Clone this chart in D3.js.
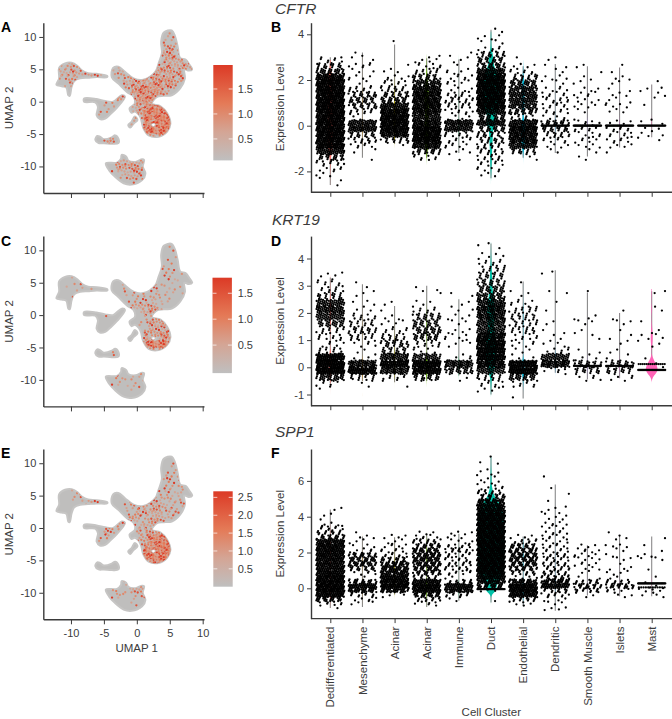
<!DOCTYPE html>
<html>
<head>
<meta charset="utf-8">
<script src="https://cdn.jsdelivr.net/npm/d3@7"></script>
<style>
  html, body { margin: 0; padding: 0; background: #fff; }
  svg { display: block; }
  text { font-family: "Liberation Sans", Arial, sans-serif; fill: #3c3c3c; }
</style>
</head>
<body>
<svg id="chart" width="672" height="719"></svg>
<script>
// cluster names and the violin colours, left to right
var categories = ["Dedifferentiated", "Mesenchyme", "Acinar", "Acinar", "Immune", "Duct",
  "Endothelial", "Dendritic", "Smooth Muscle", "Islets", "Mast"];
var clusterColors = ["#F8766D", "#DB8E00", "#AEA200", "#64B200", "#00BD5C", "#00C1A7",
  "#00BADE", "#00A6FF", "#B385FF", "#EF67EB", "#FF63B6"];

// outlines of the UMAP islands, in UMAP units
var islandLeft = [[-12.2,2.6],[-11.8,3.6],[-11.8,5.2],[-10.9,5.9],[-9.9,6],[-9,5.5],[-8.3,4.8],[-7.4,4.4],[-6.1,4.3],[-4.5,4],[-4.5,3.8],[-6.1,3.8],[-7.4,3.7],[-8.6,3.6],[-9.5,3.2],[-9.9,2.3],[-10.2,0.9],[-10.4,1],[-10.7,2.2],[-11.4,2.4]];
var islandMain = [[3.7,9.3],[4.1,10.7],[5.3,11],[5.8,10.1],[6.2,8.5],[6.6,6.7],[7.4,6.5],[8,5.7],[8.4,5],[7.9,4.8],[7.2,5],[7.3,3.6],[6.6,2.1],[5.3,1],[4.1,0.9],[3,0.7],[2.3,-0.3],[3.6,-0.7],[4.6,-1.8],[5.1,-3.4],[4.6,-4.6],[3.3,-5.4],[1.8,-5.2],[1,-4.1],[0.5,-2.3],[-0.3,-1.5],[-0.8,-1.7],[-1.1,-1],[-0.3,-0.3],[-0.5,0.8],[-1.5,1.5],[-2.8,2.8],[-3.8,3.8],[-3.6,5.2],[-2.8,5.4],[-1.8,4.6],[-0.5,3.6],[1,3.4],[2.8,4.6],[3.3,5.9],[3.8,7.5]];
var islandBridge = [[-8,0.5],[-6.1,0.4],[-4.8,0.1],[-3.6,0],[-2.3,1],[-1.8,0.8],[-3,-0.9],[-4.1,-2],[-4.8,-2.6],[-5.6,-2.7],[-6.1,-2.1],[-5.9,-0.8],[-6.3,-0.1],[-8,0]];
var islandTail = [[-0.3,-2.3],[-0.8,-3.1],[-1.3,-3.6],[-1,-4],[-0.5,-3.4],[0.1,-2.8]];
var islandSmall = [[-6.3,-5.9],[-6,-5.3],[-5.6,-5.4],[-5,-5.8],[-3.8,-5.5],[-3.3,-5.2],[-2.8,-5.7],[-2.8,-6.4],[-3.8,-6.5],[-5,-6.4],[-5.8,-6.4]];
var islandBottom = [[-4.7,-9.5],[-3,-9.4],[-2.4,-8.8],[-2.3,-8.2],[-1.6,-8.5],[-1.3,-9.1],[-0.2,-9.3],[0.8,-8.9],[1.1,-9],[0.9,-10],[1.3,-11.1],[0.8,-12.1],[-0.8,-12.8],[-2,-12.6],[-3.3,-11.6],[-4.2,-10.6]];
var holeBulb = [[2.2,-3.4],[2.7,-3.3],[2.9,-3.6],[2.5,-3.9],[2.2,-3.7]];
var islands = [islandLeft, islandMain, islandBridge, islandTail, islandSmall, islandBottom, holeBulb];

// expressing cells per 1x1 UMAP cell (base 36 digit). Rows run from y=10 down, columns from x=-13
var umapGridCFTR = ["00000000000000000100","00000000000000000110","00000000000000000220","00000000000000001332","0000000000000000133310",
  "0122100000100001233333","0223223301211233433300","0122000000123444444300","0011000000024445543000","0000000000004665520000",
  "0000000011333675000000","0000000011002367870000","0000000110002479bb3000","00000000000021a6cc5000","0000000000001079dd5000",
  "00000000000000bdd90000","0000000011000002300000","0000000022","","0000000000010000000000","0000000001233200000000",
  "0000000001323300000000","0000000000122200000000","0000000000001"];
var umapGridKRT19 = ["00000000000000000100","000000000000000000100","00000000000000000110","00000000000000001210","00000000000000000221",
  "00010000000000010121","0011201000110002221100","0001100000022012222100","0001000000012223220000","00000000000034432",
  "00000000110102454","00000000100000233320","000000000000022566","0000000000000145452","00000000000000565730",
  "00000000000000afff3","0000000012000004510","000000000230","","","0000000001212200000",
  "0000000001212100000","00000000000011100","0"];
var umapGridSPP1 = ["0","000000000000000000100","00000000000000000110","00000000000000000211","00000000000000000122",
  "00011000000000001212","0001122200001101222100","0000010000012233322110","00000000000113343221","00000000000232233210",
  "00000000002222330000","00000000322003345300","0000000120000347aa20","0000000000000258cf6","00000000000000dfffa",
  "00000000000000ffff","00000000000000088200","","00000000000100000","00000000000330","00000000020133100000",
  "00000000012011100","0000000000001","0"];
var umapFractions = [0.3, 0.5, 0.35, 0.85, 0.4, 0.6, 1, 0.45];

// number of cells per 0.25 wide expression bin, one list per cluster. First bin starts at the *BinStart value
var cftrBinStart = -2.75;
var cftrCounts = [
  [1,2,3,6,12,25,55,90,90,90,90,90,90,90,90,90,90,90,90,75,35,20,8],
  [0,0,0,0,0,1,2,6,14,20,60,50,2,12,22,26,22,10,2,5,3,6,2,2],
  [0,0,0,0,0,0,0,1,18,70,90,90,90,80,55,30,22,14,8,5,3,1,0,0,0,1],
  [0,0,0,0,0,8,25,65,90,90,90,70,50,70,75,75,75,65,45,25,12,7,5,1],
  [0,0,0,0,0,1,4,6,8,10,50,60,4,8,12,14,10,4,6,6,5,1,3,2],
  [0,0,3,6,8,10,12,14,18,18,25,60,30,65,90,90,90,90,90,85,60,30,25,20,6,3,4,2],
  [0,0,0,0,0,2,18,50,70,75,80,60,10,30,45,50,50,45,35,18,8,4,1],
  [0,0,0,0,0,0,2,4,8,14,22,25,5,8,8,10,7,5,3,4,2,2,2],
  [0,0,0,0,0,2,2,4,6,6,8,6,1,2,4,5,5,3,2,2,1,2],
  [0,0,0,0,0,0,1,4,7,7,8,4,0,3,5,3,3,2,2,3,1,1],
  [0,0,0,0,0,0,0,0,2,3,3,2,1,0,1,1,2,3,1]
];
var cftrRibbons = [[7,0,30],[8,0,40],[9,0,35],[10,0,30]];
var cftrTop = [3,3.2,3.55,2.95,2.9,4.2,2.6,2.7,2.6,2.55,1.8];
var cftrBottom = [-2.6,-1.4,-0.8,-1.4,-1.2,-2.3,-1.4,-1.2,-1.35,-0.95,-0.5];
var cftrPeak = [450,2500,1200,500,2500,150,500,3000,3000,3000,1500];
var cftrTicks = [-2,0,2,4];

var krt19BinStart = -1.25;
var krt19Counts = [
  [0,1,6,40,120,120,100,12,6,10,12,35,50,65,50,20,10,8,4],
  [0,0,2,14,100,70,4,2,6,14,20,14,10,3,3,2,2,1],
  [0,0,1,8,70,100,60,20,25,15,8,4,3,1,2],
  [0,0,0,25,100,110,45,5,12,28,32,28,25,8,3,1,3],
  [0,0,0,2,35,70,5,0,4,6,4,3,4,3,2,2],
  [0,4,8,15,50,90,100,100,95,90,55,60,70,75,60,40,32,25,20,14,8,4,2,1],
  [1,0,8,35,110,100,3,3,6,8,14,14,16,14,6,2,1,1],
  [0,0,0,0,6,80,50,6,4,2,2,2,0,1,1,1,1,0,1,1],
  [0,0,0,5,20,26,4,2,0,2,2,3,3,0,0,0,1],
  [0,0,0,5,20,26,2,2,2,2,1,3,1,1],
  [0,0,0,0,0,2,1,0,3,4,2,1,0,2,0,1,1]
];
var krt19Ribbons = [[8,0.05,25],[9,0.05,22],[10,0.12,14],[10,-0.1,26]];
var krt19Top = [3.3,3.05,2.25,3,2.5,4.55,3.15,3.57,2.75,2,2.8];
var krt19Bottom = [-0.6,-0.5,-0.55,-0.5,-0.3,-1,-1.15,-0.2,-0.45,-0.4,-0.15];
var krt19Peak = [1000,2500,2000,1500,2500,260,1000,3000,3000,3000,50];
var krt19Ticks = [-1,0,1,2,3,4];

var spp1BinStart = -1.25;
var spp1Counts = [
  [1,8,28,60,75,75,75,70,55,50,50,55,58,60,60,50,22,15,10,3,1,2,2],
  [0,3,5,10,40,55,25,1,6,20,32,30,25,5,3,3,3,1],
  [0,0,0,3,40,75,70,55,45,40,35,20,8,7,5,3,4],
  [0,6,12,30,65,70,50,12,25,30,35,38,35,32,22,15,6,3],
  [0,0,2,10,45,50,15,2,8,10,12,9,9,14,9,4,3,4],
  [0,0,1,0,4,30,45,55,70,75,75,75,75,75,75,75,75,75,75,75,75,75,60,55,40,20,12,6,4,3,3,2,1,1,1],
  [0,5,14,55,75,75,40,4,14,25,30,35,32,30,22,10,4],
  [4,3,3,10,14,50,40,18,14,12,12,10,10,7,7,5,6,6,4,5,3,3,3,1,1,0,1,1,0,1],
  [0,0,0,2,14,22,14,2,2,3,5,4,5,5,3],
  [0,0,0,3,6,24,12,2,4,3,1,3,2,2,4,1,2,1],
  [0,0,0,3,5,3,1,1,0,1,0,3,3,1,1,0,1]
];
var spp1Ribbons = [[5,-0.05,30],[10,0.27,34],[10,0.05,12]];
var spp1Top = [4.4,2.9,2.85,3.05,3.05,7.4,2.9,5.8,2.4,2.95,2.9];
var spp1Bottom = [-1.1,-1.05,-0.35,-1.05,-0.7,-0.8,-1,-1.25,-0.4,-0.45,-0.45];
var spp1Peak = [1500,2500,1500,1500,2500,80,1500,2500,3000,3000,2500];
var spp1Ticks = [0,2,4,6];

// colour bar ranges and ticks
var cftrLegendRange = [0.07,1.98], cftrLegendTicks = [0.5,1,1.5];
var krt19LegendRange = [-0.04,1.8], krt19LegendTicks = [0.5,1,1.5];
var spp1LegendRange = [0,2.67], spp1LegendTicks = [0.5,1,1.5,2,2.5];
var umapTicks = [-10,-5,0,5,10];

// colours along the colour bar
var rampStops = [0, 0.3, 0.6, 1];
var rampColors = ["#bfbfbf", "#d4a595", "#e47a57", "#dc3a26"];

var binWidth = 0.25;
var svg = d3.select("#chart");
var defs = svg.append("defs");

var grad = defs.append("linearGradient").attr("id", "barGrad")
    .attr("x1", 0).attr("y1", 1).attr("x2", 0).attr("y2", 0);
rampStops.forEach(function(s, i) {
  grad.append("stop").attr("offset", (s * 100) + "%").attr("stop-color", rampColors[i]);
});

var dotColor = d3.scaleLinear().domain(rampStops).range(rampColors);

function styleAxis(g) {
  g.selectAll("path, line").attr("stroke", "#3a3a3a");
  g.select(".domain").attr("stroke-width", 1.4);
  g.selectAll(".tick line").attr("stroke-width", 1);
  g.selectAll("text").style("font-size", "11px");
}

function plain(d) { return String(d); }

// turn a count grid into dots, each one placed inside its grid cell
function gridDots(grid, perCount) {
  var dots = [];
  grid.forEach(function(row, r) {
    row.split("").forEach(function(c, col) {
      var n = Math.round(parseInt(c, 36) * perCount);
      for (var i = 0; i < n; i++) {
        dots.push({
          x: -13 + col + ((i + 1) * 0.7549 + r * 0.37 + col * 0.19) % 1,
          y: 10 - r + ((i + 1) * 0.5698 + col * 0.41) % 1,
          f: umapFractions[(i + r + col) % umapFractions.length]
        });
      }
    });
  });
  return dots;
}

// turn the bin counts of one cluster into dots spread over the width of the strip
function binDots(counts, start, cluster) {
  var dots = [];
  counts.forEach(function(n, b) {
    for (var i = 0; i < n; i++) {
      dots.push({
        cluster: cluster,
        value: start + binWidth * (((i + 1) * 0.5698 + b * 0.29) % 1),
        jitter: ((i + 1) * 0.7549 + b * 0.37 + cluster * 0.23) % 1
      });
    }
    start += binWidth;
  });
  return dots;
}

function ribbonDots(ribbons) {
  var dots = [];
  ribbons.forEach(function(r) {
    for (var i = 0; i < r[2]; i++) {
      dots.push({ cluster: r[0], value: r[1], jitter: (i + 0.5) / r[2] });
    }
  });
  return dots;
}

function drawUmap(id, offset, grid, perCount, legendRange, legendTicks, barX, showX) {
  var x = d3.scaleLinear().domain([-14.2, 10.2]).range([43.3, 204]);
  var y = d3.scaleLinear().domain([-14.1, 12.2]).range([193 + offset, 22.7 + offset]);

  var line = d3.line().x(function(d) { return x(d[0]); }).y(function(d) { return y(d[1]); })
      .curve(d3.curveCatmullRomClosed.alpha(0.5));
  var shape = islands.map(function(p) { return line(p); }).join(" ");

  defs.append("clipPath").attr("id", "clip" + id)
    .append("path").attr("d", shape).attr("clip-rule", "evenodd");

  svg.append("path").attr("d", shape).attr("fill", "#bfbebd")
      .attr("fill-rule", "evenodd")
      .attr("stroke", "#c6c5c4").attr("stroke-width", 2).attr("stroke-linejoin", "round");

  svg.append("g").attr("clip-path", "url(#clip" + id + ")")
    .selectAll("circle")
    .data(gridDots(grid, perCount))
    .enter().append("circle")
      .attr("r", 1.15)
      .attr("cx", function(d) { return x(d.x); })
      .attr("cy", function(d) { return y(d.y); })
      .attr("fill", function(d) { return dotColor(d.f); });

  // axes
  svg.append("g").attr("transform", "translate(43.3,0)")
      .call(d3.axisLeft(y).tickValues(umapTicks).tickSize(4).tickPadding(3).tickSizeOuter(0).tickFormat(plain))
      .call(styleAxis);
  svg.append("g").attr("transform", "translate(0," + (193 + offset) + ")")
      .call(d3.axisBottom(x).tickValues(umapTicks).tickSize(5).tickPadding(5).tickSizeOuter(0)
        .tickFormat(showX ? plain : function() { return ""; }))
      .call(styleAxis);

  svg.append("text").attr("transform", "translate(13," + (108 + offset) + ") rotate(-90)")
      .attr("text-anchor", "middle").style("font-size", "11.5px").text("UMAP 2");
  if (showX) {
    svg.append("text").attr("x", 136.7).attr("y", 652 - 426.3 + offset)
        .attr("text-anchor", "middle").style("font-size", "11.5px").text("UMAP 1");
  }

  // colour bar
  var barTop = 65 + offset + (id === "C" ? -0.7 : 0), barBottom = barTop + 95.4;
  var bar = d3.scaleLinear().domain(legendRange).range([barBottom, barTop]);
  svg.append("rect").attr("x", barX).attr("y", barTop).attr("width", 19.4).attr("height", 95.4)
      .attr("fill", "url(#barGrad)");
  legendTicks.forEach(function(t) {
    svg.append("line").attr("x1", barX).attr("x2", barX + 4).attr("y1", bar(t)).attr("y2", bar(t))
        .attr("stroke", "#fff").attr("stroke-opacity", 0.7);
    svg.append("line").attr("x1", barX + 15.4).attr("x2", barX + 19.4).attr("y1", bar(t)).attr("y2", bar(t))
        .attr("stroke", "#fff").attr("stroke-opacity", 0.7);
    svg.append("text").attr("x", 237.7).attr("y", bar(t) + 4).style("font-size", "11px").text(t.toFixed(1));
  });
}

function drawViolins(offset, zeroY, unit, binStart, counts, ribbons, tops, bottoms, peaks, ticks, showX) {
  var x = d3.scalePoint().domain(d3.range(categories.length)).range([330.3, 651.7]);
  var yBottom = 192.3 + offset, yTop = 22.7 + offset;
  var y = d3.scaleLinear().domain([(zeroY - yBottom) / unit, (zeroY - yTop) / unit]).range([yBottom, yTop]);
  var spread = 28;

  // whiskers from the lowest to the highest cell
  svg.append("g").selectAll("line")
    .data(d3.range(categories.length))
    .enter().append("line")
      .attr("x1", function(d) { return x(d); })
      .attr("x2", function(d) { return x(d); })
      .attr("y1", function(d) { return y(tops[d]); })
      .attr("y2", function(d) { return y(bottoms[d]); })
      .attr("stroke", "#8a8a8a").attr("stroke-width", 1.1);

  // violins, narrow because most of each one hides below the dots
  counts.forEach(function(c, k) {
    var width = d3.scaleLinear().domain([0, peaks[k]]).range([0, 14]).clamp(true);
    var total = c.map(function(n, b) {
      var lo = binStart + binWidth * b, extra = 0;
      ribbons.forEach(function(r) {
        if (r[0] === k && r[1] >= lo && r[1] < lo + binWidth) extra += r[2];
      });
      return { value: lo + binWidth / 2, n: n + extra };
    });
    var area = d3.area()
        .y(function(d) { return y(d.value); })
        .x0(function(d) { return x(k) - width(d.n); })
        .x1(function(d) { return x(k) + width(d.n); })
        .curve(d3.curveBasis);
    svg.append("path").attr("d", area(total)).attr("fill", clusterColors[k]);
  });

  // cells
  var dots = [];
  counts.forEach(function(c, k) { dots = dots.concat(binDots(c, binStart, k)); });
  dots = dots.concat(ribbonDots(ribbons));
  svg.append("g").selectAll("circle")
    .data(dots)
    .enter().append("circle")
      .attr("r", 1.15)
      .attr("cx", function(d) { return x(d.cluster) + (d.jitter - 0.5) * spread; })
      .attr("cy", function(d) { return y(d.value); })
      .attr("fill", "#000");

  // axes
  svg.append("g").attr("transform", "translate(311,0)")
      .call(d3.axisLeft(y).tickValues(ticks).tickSize(4).tickPadding(3).tickSizeOuter(0).tickFormat(plain))
      .call(styleAxis);
  var xAxis = svg.append("g").attr("transform", "translate(0," + yBottom + ")")
      .call(d3.axisBottom(x).tickSize(4.5).tickPadding(5).tickSizeOuter(0)
        .tickFormat(function(i) { return showX ? categories[i] : ""; }))
      .call(styleAxis);
  xAxis.select(".domain").attr("d", "M311,0H672");
  if (showX) {
    xAxis.selectAll("text")
        .style("font-size", "11.5px")
        .attr("transform", "rotate(-90)")
        .attr("text-anchor", "end")
        .attr("x", -8).attr("y", 0)
        .attr("dy", "0.32em");
    svg.append("text").attr("x", 491.3).attr("y", 715.5).attr("text-anchor", "middle")
        .style("font-size", "11.5px").text("Cell Cluster");
  }
  svg.append("text").attr("transform", "translate(284," + (107.5 + offset) + ") rotate(-90)")
      .attr("text-anchor", "middle").style("font-size", "11.5px").text("Expression Level");
}

drawUmap("A", 0, umapGridCFTR, 2, cftrLegendRange, cftrLegendTicks, 213.3, false);
drawUmap("C", 213.4, umapGridKRT19, 1.2, krt19LegendRange, krt19LegendTicks, 212.5, false);
drawUmap("E", 426.3, umapGridSPP1, 1.6, spp1LegendRange, spp1LegendTicks, 213.3, true);

drawViolins(0, 125.7, 22.85, cftrBinStart, cftrCounts, cftrRibbons, cftrTop, cftrBottom, cftrPeak, cftrTicks, false);
drawViolins(213.4, 367.3, 27.2, krt19BinStart, krt19Counts, krt19Ribbons, krt19Top, krt19Bottom, krt19Peak, krt19Ticks, false);
drawViolins(426.3, 588.3, 17.9, spp1BinStart, spp1Counts, spp1Ribbons, spp1Top, spp1Bottom, spp1Peak, spp1Ticks, true);

// panel letters and gene titles
var panelLetters = [["A",1,31.7],["B",271,31.7],["C",1,245.5],["D",271,245.5],["E",1,458],["F",271,458]];
var geneTitles = [["CFTR",275,14],["KRT19",272,224.5],["SPP1",275,437]];
svg.selectAll(".letter").data(panelLetters).enter().append("text")
    .attr("class", "letter").attr("x", function(d) { return d[1]; }).attr("y", function(d) { return d[2]; })
    .style("font-size", "14px").style("font-weight", "bold").style("fill", "#000")
    .text(function(d) { return d[0]; });
svg.selectAll(".gene").data(geneTitles).enter().append("text")
    .attr("class", "gene").attr("x", function(d) { return d[1]; }).attr("y", function(d) { return d[2]; })
    .style("font-size", "15.5px").style("font-style", "italic")
    .text(function(d) { return d[0]; });
</script>
</body>
</html>
